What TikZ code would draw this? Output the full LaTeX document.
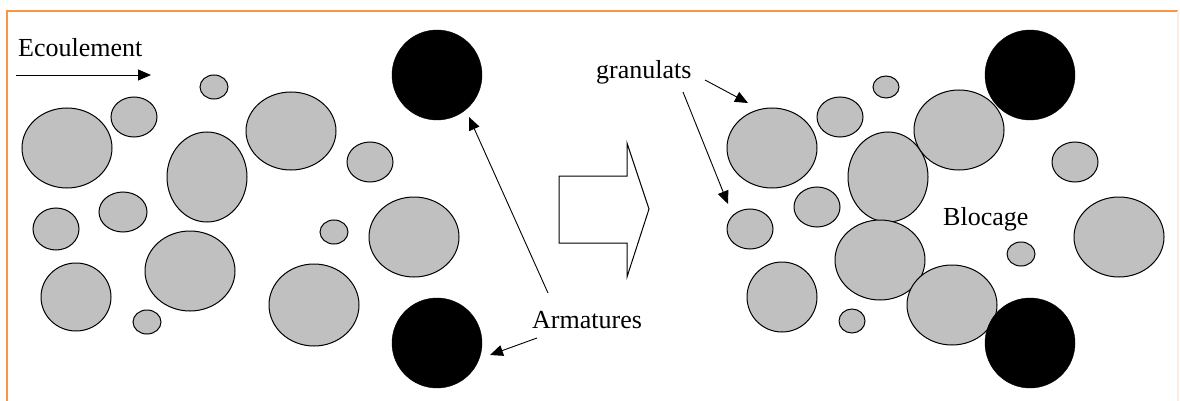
\documentclass[tikz,border=0pt]{standalone}
\usepackage{fontspec}
\setmainfont{Liberation Serif}
\usetikzlibrary{arrows.meta}
\definecolor{framecol}{HTML}{F79646}
\definecolor{framefaint}{HTML}{FDEEE4}
\definecolor{grain}{HTML}{C0C0C0}
\begin{document}
\begin{tikzpicture}[x=1pt,y=-1pt,
  granule/.style={draw=black,line width=1pt,fill=grain},
  rebar/.style={circle,fill=black,draw=black,minimum size=90pt,inner sep=0pt},
  txt/.style={font=\fontsize{26}{30}\selectfont,inner sep=0pt,anchor=base west},
  pointer/.style={line width=0.9pt,-{Triangle[length=13pt,width=11pt]}},
  bigarrow/.style={draw=black,line width=1pt,fill=white,line join=miter}]
\useasboundingbox (0,0) rectangle (1180,401);

% frame
\draw[framecol,line width=1.5pt] (7,401) -- (7,11) -- (1178,11);
\draw[framefaint,line width=1.2pt] (1178,11) -- (1178,401);

% aggregates before blocking
\foreach \cx/\cy/\rx/\ry in {
  67/148/45/40, 134/117/23/20, 214/87/14/12, 207/177/40/45,
  291/131/45/39, 370/162/23/20, 56/229/23/21, 123/212/24/20,
  190/271/45/40, 76/297/35/34, 147/322/14/12, 334/232/14/12,
  414/237/45/40, 314/305/45/41}
  \draw[granule] (\cx,\cy) ellipse [x radius=\rx, y radius=\ry];

% aggregates after blocking
\foreach \cx/\cy/\rx/\ry in {
  772/148/45/40, 840/117/23/20, 886/87/13/11, 888/177/40/45,
  959/130/45/40, 1075/162/23/20, 1119/237/45/40, 1021/254/14/12,
  750/229/23/20, 817/207/23/20, 880/260/45/40, 782/297/35/35,
  852/321/13/12, 952/305/45/40}
  \draw[granule] (\cx,\cy) ellipse [x radius=\rx, y radius=\ry];

% reinforcement bars
\node[rebar] (barTL) at (437,75) {};
\node[rebar] (barBL) at (437,343) {};
\node[rebar] (barTR) at (1030,75) {};
\node[rebar] (barBR) at (1030,343) {};

% transition arrow
\draw[bigarrow] (559,176) -- (627,176) -- (627,143) -- (649,209)
  -- (627,277) -- (627,243) -- (559,243) -- cycle;

% labels
\node[txt] (flow) at (18,57) {Ecoulement};
\node[txt] (arm) at (532,328) {Armatures};
\node[txt] (gran) at (596,79) {granulats};
\node[txt] (block) at (943,225) {Blocage};

% pointer ends
\coordinate (flowA) at (16,75);
\coordinate (flowB) at (151,75);
\coordinate (armA) at (548,293);
\coordinate (armAend) at (469,117);
\coordinate (armB) at (537,338);
\coordinate (armBend) at (490,355);
\coordinate (granA) at (705,80);
\coordinate (granAend) at (748,103);
\coordinate (granB) at (683,92);
\coordinate (granBend) at (728,204);

\draw[pointer] (flowA) -- (flowB);
\draw[pointer] (armA) -- (armAend);
\draw[pointer] (armB) -- (armBend);
\draw[pointer] (granA) -- (granAend);
\draw[pointer] (granB) -- (granBend);
\end{tikzpicture}
\end{document}
